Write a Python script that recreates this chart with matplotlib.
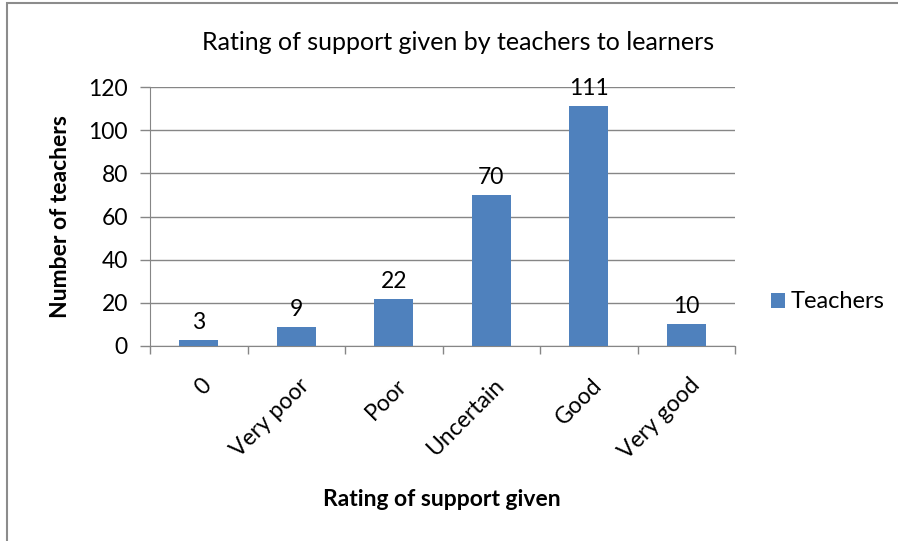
import numpy as np
import matplotlib.pyplot as plt
from matplotlib.patches import Rectangle

plt.rcParams['font.family'] = ['Lato', 'DejaVu Sans']

# Data
categories = ['0', 'Very poor', 'Poor', 'Uncertain', 'Good', 'Very good']
teachers = [3, 9, 22, 70, 111, 10]

bar_color = '#4F81BD'
grid_color = '#868686'

fig = plt.figure(figsize=(8.98, 5.41), dpi=100)
ax = fig.add_axes([150 / 898, 1 - 346 / 541, (735 - 150) / 898, (346 - 87) / 541])

x = np.arange(len(categories))
bars = ax.bar(x, teachers, width=0.4, color=bar_color, label='Teachers', zorder=3)

# Value labels above bars
for xi, v in zip(x, teachers):
    ax.annotate(str(v), xy=(xi, v), xytext=(0, 5), textcoords='offset points',
                ha='center', va='bottom', fontsize=16.5)

ax.set_xlim(-0.5, len(categories) - 0.5)
ax.set_ylim(0, 120)
ax.set_yticks(range(0, 121, 20))
ax.yaxis.grid(True, color=grid_color, linewidth=1, zorder=0)
ax.set_axisbelow(True)

# Category boundary ticks on the x axis
ax.set_xticks(np.arange(-0.5, len(categories), 1), minor=False)
ax.set_xticklabels([])
ax.tick_params(axis='x', length=6, color=grid_color, width=1)
ax.tick_params(axis='y', length=7, color=grid_color, width=1, labelsize=16.5, pad=9)

for xi, lab in zip(x, categories):
    ax.annotate(lab, xy=(xi, 0), xycoords=('data', 'axes fraction'),
                xytext=(7, -26), textcoords='offset points',
                rotation=45, ha='right', va='center', rotation_mode='anchor',
                fontsize=16.5)

for side in ['top', 'right']:
    ax.spines[side].set_visible(False)
ax.spines['left'].set_color(grid_color)
ax.spines['bottom'].set_color(grid_color)

fig.text(458 / 898, 1 - 42 / 541, 'Rating of support given by teachers to learners',
         fontsize=18, ha='center', va='center')
ax.set_ylabel('Number of teachers', fontsize=16.5, fontweight='bold', labelpad=12)
fig.text(442 / 898, 1 - 500 / 541, 'Rating of support given', fontsize=16.5,
         fontweight='bold', ha='center', va='center')

ax.legend(loc='center left', bbox_to_anchor=(1.025, 0.17), frameon=False, fontsize=17,
          handlelength=0.6, handleheight=0.6, handletextpad=0.25)

# Outer chart border (only left and top visible)
fig.patches.append(Rectangle((7 / 898, -0.05), 1.1, 1 - 3 / 541 + 0.05, transform=fig.transFigure,
                             fill=False, edgecolor='#8C8C8C', linewidth=1.5))

fig.savefig('out.png', dpi=100)
